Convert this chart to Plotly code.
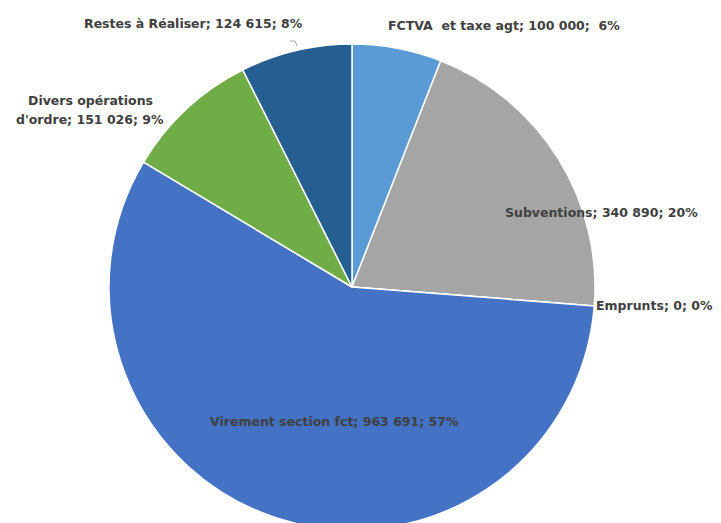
import plotly.graph_objects as go

categories = ["FCTVA  et taxe agt", "Subventions", "Emprunts", "Virement section fct",
              "Divers opérations<br>d'ordre", "Restes à Réaliser"]
values = [100000, 340890, 0, 963691, 151026, 124615]
pct_labels = ["6%", "20%", "0%", "57%", "9%", "8%"]
colors = ["#5B9BD5", "#A5A5A5", "#FFC000", "#4472C4", "#70AD47", "#255E91"]

W, H = 721, 523
OFF = 8  # page body margin
# label centre positions in pixels (screen coords)
label_pos = [(504, 25), (601, 212), (654, 305), (334, 421), (90, 110), (193, 24)]
LINE_GAP = 20

CX, CY, R = 352 - OFF, 287 - OFF, 243


def fmt(v):
    return f"{v:,}".replace(",", " ")


def px_x(x):
    return (x - OFF) / W


def px_y(y):
    return 1 - (y - OFF) / H


fig = go.Figure(go.Pie(
    labels=[c.replace("<br>", " ") for c in categories],
    values=values,
    sort=False,
    direction="clockwise",
    rotation=0,
    marker=dict(colors=colors, line=dict(color="white", width=1.5)),
    textinfo="none",
    hoverinfo="label+value+percent",
    domain=dict(x=[(CX - R) / W, (CX + R) / W],
                y=[max(0, 1 - (CY + R) / H), 1 - (CY - R) / H]),
    showlegend=False,
))

for cat, v, p, (lx, ly) in zip(categories, values, pct_labels, label_pos):
    sep = ";  " if cat.startswith("FCTVA") else "; "
    full = f"{cat}; {fmt(v)}{sep}{p}"
    lines = full.split("<br>")
    n = len(lines)
    for i, line in enumerate(lines):
        y = ly + (i - (n - 1) / 2) * LINE_GAP
        fig.add_annotation(
            x=px_x(lx), y=px_y(y), xref="paper", yref="paper",
            text=line,
            showarrow=False, align="center",
            font=dict(family="DejaVu Sans", size=12.5, color="#404040", weight="bold"),
            xanchor="center", yanchor="middle",
        )

fig.add_shape(type="path", xref="paper", yref="paper",
              path=f"M {px_x(290)} {px_y(41)} L {px_x(295)} {px_y(41)} L {px_x(297)} {px_y(46)}",
              line=dict(color="#A6A6A6", width=1))

fig.update_layout(width=W, height=H, margin=dict(l=0, r=0, t=0, b=0),
                  paper_bgcolor="white", plot_bgcolor="white")
fig.write_html("out.html")
